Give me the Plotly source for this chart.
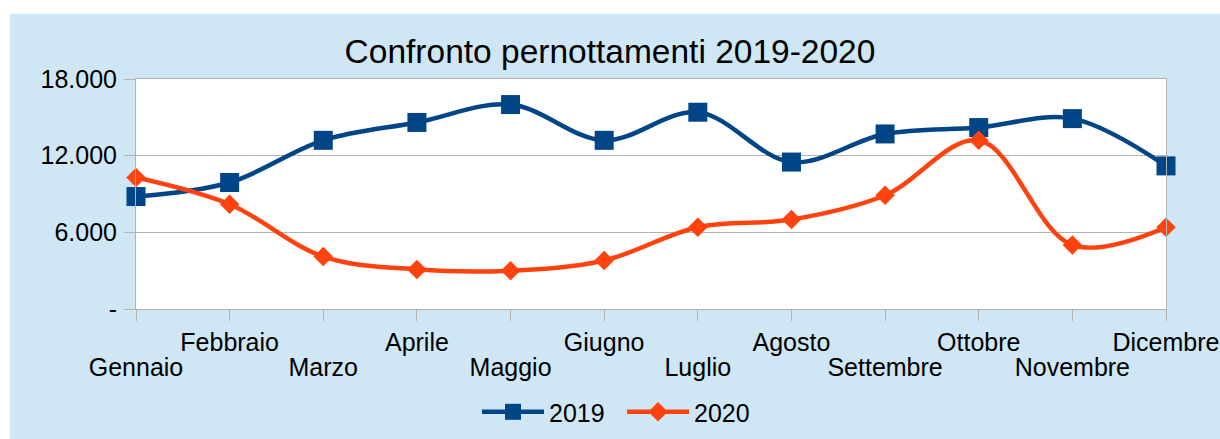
import plotly.graph_objects as go

months = ["Gennaio", "Febbraio", "Marzo", "Aprile", "Maggio", "Giugno",
          "Luglio", "Agosto", "Settembre", "Ottobre", "Novembre", "Dicembre"]
values_2019 = [8800, 9900, 13200, 14600, 16000, 13200,
               15400, 11500, 13700, 14200, 14900, 11200]
values_2020 = [10300, 8200, 4100, 3100, 3000, 3800,
               6400, 7000, 8900, 13200, 5000, 6400]
y_tickvals = [0, 6000, 12000, 18000]
y_ticktext = ["-", "6.000", "12.000", "18.000"]

BLUE = "#004586"
ORANGE = "#ff420e"
BG = "#cfe6f4"
GRID = "#b3b3b3"
FONT = "Liberation Sans"

x_idx = list(range(len(months)))
upper = [m if i % 2 == 1 else "" for i, m in enumerate(months)]
lower_vals = [i for i in x_idx if i % 2 == 0]
lower_text = [months[i] for i in lower_vals]

fig = go.Figure()
fig.add_trace(go.Scatter(
    x=x_idx, y=values_2019, name="2019", mode="lines+markers",
    line=dict(color=BLUE, width=4.5, shape="spline", smoothing=1.0),
    marker=dict(symbol="square", size=19, color=BLUE),
    cliponaxis=False,
))
fig.add_trace(go.Scatter(
    x=x_idx, y=values_2020, name="2020", mode="lines+markers",
    line=dict(color=ORANGE, width=4.5, shape="spline", smoothing=1.0),
    marker=dict(symbol="diamond", size=15, color=ORANGE),
    cliponaxis=False,
))

W, H = 1220, 439
L, R, T, B = 136, 1220 - 1166, 78.5, 439 - 309.5
pw, ph = W - L - R, H - T - B

def px_to_paper_x(px):
    return (px - L) / pw

def py_to_paper_y(py):
    return (H - B - py) / ph

fig.update_layout(
    width=W, height=H,
    margin=dict(l=L, r=R, t=T, b=B, pad=0, autoexpand=False),
    paper_bgcolor=BG,
    plot_bgcolor="white",
    font=dict(family=FONT, size=25, color="black"),
    title=dict(text="Confronto pernottamenti 2019-2020", x=px_to_paper_x(610),
               xref="paper", xanchor="center",
               y=1 - 51 / H, yanchor="middle",
               font=dict(family=FONT, size=33.5, color="black")),
    showlegend=True,
    legend=dict(orientation="h", x=px_to_paper_x(622), xanchor="center",
                y=py_to_paper_y(413), yanchor="middle", itemwidth=62,
                entrywidth=68,
                font=dict(family=FONT, size=25, color="black"),
                bgcolor="rgba(0,0,0,0)"),
    xaxis=dict(range=[0, 11], tickmode="array", tickvals=x_idx, ticktext=upper,
               ticks="outside", ticklen=11, tickcolor=GRID, tickwidth=1,
               showline=True, linecolor=GRID, linewidth=1, mirror=True,
               showgrid=False, zeroline=False, ticklabelstandoff=0,
               automargin=False,
               tickfont=dict(family=FONT, size=25, color="black")),
    xaxis2=dict(range=[0, 11], overlaying="x", anchor="y", side="bottom",
                tickmode="array", tickvals=lower_vals, ticktext=lower_text,
                ticks="", showline=False, showgrid=False, zeroline=False,
                ticklabelstandoff=41, automargin=False,
                tickfont=dict(family=FONT, size=25, color="black")),
    yaxis=dict(range=[0, 18000], tickmode="array", tickvals=y_tickvals,
               ticktext=y_ticktext, ticks="outside", ticklen=11, tickcolor=GRID,
               showline=True, linecolor=GRID, linewidth=1, mirror=True,
               showgrid=True, gridcolor=GRID, gridwidth=1, zeroline=False,
               ticklabelstandoff=2, automargin=False,
               tickfont=dict(family=FONT, size=25, color="black")),
    shapes=[
        dict(type="rect", xref="paper", yref="paper",
             x0=-1, x1=2, y0=py_to_paper_y(13), y1=py_to_paper_y(-20),
             fillcolor="white", line=dict(width=0), layer="above"),
        dict(type="rect", xref="paper", yref="paper",
             x0=px_to_paper_x(-20), x1=px_to_paper_x(10), y0=-2, y1=2,
             fillcolor="white", line=dict(width=0), layer="above"),
    ],
)

# invisible trace to activate xaxis2
fig.add_trace(go.Scatter(x=[0], y=[0], xaxis="x2", yaxis="y", mode="markers",
                         marker=dict(opacity=0), showlegend=False, hoverinfo="skip"))

fig.write_html(
    "out.html",
    config={"displayModeBar": False},
    post_script="document.body.style.margin='0';document.body.style.overflow='hidden';"
                "document.documentElement.style.overflow='hidden';",
)
